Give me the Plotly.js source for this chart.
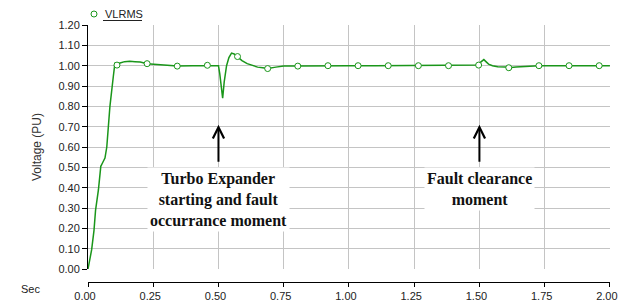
<!DOCTYPE html>
<html>
<head>
<meta charset="utf-8">
<script src="https://cdn.plot.ly/plotly-3.0.1.min.js"></script>
<style>html,body{margin:0;padding:0;background:#fff;}#chart{width:619px;height:303px;}</style>
</head>
<body>
<div id="chart"></div>
<script>
// Voltage trace (time in s, voltage in PU)
var timeSec = [0, 0.014, 0.023, 0.029, 0.040, 0.049, 0.055, 0.065, 0.072, 0.084, 0.097, 0.103, 0.111, 0.12, 0.14, 0.16, 0.18, 0.20, 0.2265, 0.26, 0.30, 0.342, 0.40, 0.4575, 0.500, 0.505, 0.510, 0.516, 0.522, 0.531, 0.540, 0.550, 0.560, 0.573, 0.590, 0.610, 0.630, 0.650, 0.670, 0.6885, 0.720, 0.750, 0.804, 0.90, 1.00, 1.10, 1.20, 1.30, 1.40, 1.497, 1.505, 1.512, 1.517, 1.525, 1.535, 1.550, 1.570, 1.600, 1.6125, 1.640, 1.680, 1.728, 1.80, 1.90, 2.00];
var voltagePU = [0, 0.095, 0.19, 0.29, 0.39, 0.505, 0.52, 0.546, 0.60, 0.80, 0.947, 1.01, 1.003, 1.012, 1.02, 1.022, 1.02, 1.018, 1.01, 1.007, 1.003, 0.998, 1.0, 1.002, 1.0, 0.96, 0.90, 0.84, 0.92, 1.0, 1.04, 1.062, 1.058, 1.045, 1.025, 1.01, 1.0, 0.993, 0.99, 0.986, 0.993, 0.998, 0.998, 1.0, 1.0, 1.0, 1.0, 1.0, 1.0, 1.003, 1.018, 1.028, 1.03, 1.02, 1.008, 1.0, 0.995, 0.993, 0.99, 0.994, 0.997, 1.0, 1.0, 1.0, 1.0];
// Marker samples shown on the trace
var markerTime = [0.111, 0.2265, 0.342, 0.4575, 0.573, 0.6885, 0.804, 0.9195, 1.035, 1.1505, 1.266, 1.3815, 1.497, 1.6125, 1.728, 1.8435, 1.959];
var markerVolt = [1.003, 1.01, 0.998, 1.002, 1.045, 0.986, 0.998, 1.0, 1.0, 1.0, 1.0, 1.0, 1.003, 0.99, 1.0, 1.0, 1.0];
var xTicks = [0, 0.25, 0.5, 0.75, 1.0, 1.25, 1.5, 1.75, 2.0];
var yTicks = [0, 0.1, 0.2, 0.3, 0.4, 0.5, 0.6, 0.7, 0.8, 0.9, 1.0, 1.1, 1.2];
var seriesName = 'VLRMS';
var noteStart = 'Turbo Expander<br>starting and fault<br>occurrance moment';
var noteClear = 'Fault clearance<br>moment';
var eventTimes = [0.5, 1.5];

var green = '#1a961a';
var traces = [
  {x: timeSec, y: voltagePU, type: 'scatter', mode: 'lines', line: {color: green, width: 1.5}, showlegend: false, hoverinfo: 'skip'},
  {x: markerTime, y: markerVolt, type: 'scatter', mode: 'markers', name: seriesName,
   marker: {symbol: 'circle', size: 6, color: '#ffffff', line: {color: green, width: 1}}, showlegend: false}
];

var tickFont = {family: 'Liberation Sans, Arial, sans-serif', size: 11, color: '#222'};
var layout = {
  width: 619, height: 303,
  margin: {l: 88, r: 9, t: 25, b: 21, pad: 0},
  paper_bgcolor: '#fff', plot_bgcolor: '#fff',
  showlegend: false,
  xaxis: {
    range: [0, 2.0004], tickvals: xTicks, ticktext: xTicks.map(function(v){return v.toFixed(2);}),
    anchor: 'free', position: 0, ticklabeloverflow: 'allow', ticklabelshift: -3,
    showgrid: true, gridcolor: '#c4c4c4', gridwidth: 1, zeroline: false,
    showline: true, linecolor: '#000', linewidth: 1,
    ticks: 'outside', ticklen: 4, tickcolor: '#000', tickfont: tickFont
  },
  yaxis: {
    domain: [13/257, 1],
    range: [0, 1.2002], tickvals: yTicks, ticktext: yTicks.map(function(v){return v.toFixed(2);}),
    showgrid: true, gridcolor: '#c4c4c4', gridwidth: 1, zeroline: false,
    showline: true, linecolor: '#000', linewidth: 1,
    ticks: 'outside', ticklen: 5, tickcolor: '#000', tickfont: tickFont,
    title: {text: 'Voltage (PU)', font: {family: 'Liberation Sans, Arial, sans-serif', size: 12, color: '#333'}, standoff: 14}
  },
  shapes: [
    {type: 'circle', xref: 'paper', yref: 'paper', xsizemode: 'pixel', ysizemode: 'pixel',
     xanchor: 6/522, yanchor: 268/257, x0: -3, x1: 3, y0: -3, y1: 3,
     line: {color: green, width: 1}, fillcolor: '#fff'},
    {type: 'line', xref: 'paper', yref: 'paper', x0: 15/522, x1: 54/522, y0: 261.5/257, y1: 261.5/257,
     line: {color: '#222', width: 1}}
  ],
  annotations: [
    {xref: 'paper', yref: 'paper', x: 15/522, y: 268/257, xanchor: 'left', yanchor: 'middle', showarrow: false,
     text: seriesName, font: {family: 'Liberation Sans, Arial, sans-serif', size: 11, color: '#222'}},
    {xref: 'paper', yref: 'paper', x: -58/522, y: -7/257, xanchor: 'center', yanchor: 'middle', showarrow: false,
     text: 'Sec', font: {family: 'Liberation Sans, Arial, sans-serif', size: 11, color: '#222'}},
    {x: eventTimes[0], y: 0.709, ax: eventTimes[0], ay: 0.52, xref: 'x', yref: 'y', axref: 'x', ayref: 'y',
     text: '', showarrow: true, arrowhead: 5, arrowsize: 1.1, arrowwidth: 2, arrowcolor: '#000', standoff: 0},
    {x: eventTimes[1], y: 0.709, ax: eventTimes[1], ay: 0.52, xref: 'x', yref: 'y', axref: 'x', ayref: 'y',
     text: '', showarrow: true, arrowhead: 5, arrowsize: 1.1, arrowwidth: 2, arrowcolor: '#000', standoff: 0},
    {x: eventTimes[0], y: 0.34, xref: 'x', yref: 'y', xanchor: 'center', yanchor: 'middle', showarrow: false,
     text: '<b>' + noteStart + '</b>', bgcolor: '#fff', borderpad: 2,
     font: {family: 'Liberation Serif, Times New Roman, serif', size: 16, color: '#111'}},
    {x: eventTimes[1], y: 0.395, xref: 'x', yref: 'y', xanchor: 'center', yanchor: 'middle', showarrow: false,
     text: '<b>' + noteClear + '</b>', bgcolor: '#fff', borderpad: 2,
     font: {family: 'Liberation Serif, Times New Roman, serif', size: 16, color: '#111'}}
  ]
};
Plotly.newPlot('chart', traces, layout, {displayModeBar: false, staticPlot: true});
</script>
</body>
</html>
